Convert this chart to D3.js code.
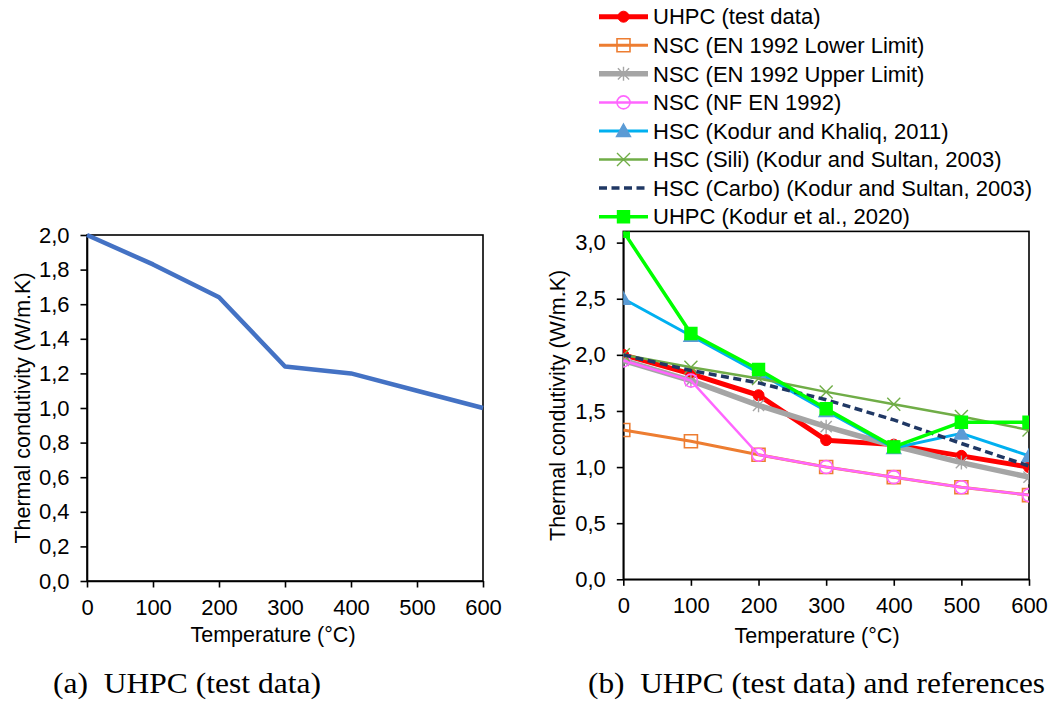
<!DOCTYPE html>
<html>
<head>
<meta charset="utf-8">
<script src="https://cdn.jsdelivr.net/npm/d3@7"></script>
<style>
  html, body { margin: 0; padding: 0; background: #fff; }
  svg { display: block; font-family: "Liberation Sans", Arial, sans-serif; }
  .caption { font-family: "Liberation Serif", "Times New Roman", serif; white-space: pre; }
</style>
</head>
<body>
<svg id="fig" width="1053" height="709"></svg>
<script>
// Temperatures (°C) shared by every series
const temps = [0, 100, 200, 300, 400, 500, 600];

// Thermal conductivity (W/m.K)
const uhpcTest   = [2.00, 1.83, 1.64, 1.24, 1.20, 1.10, 1.00];
const nscLower   = [1.33, 1.23, 1.11, 1.00, 0.91, 0.82, 0.75];
const nscUpper   = [1.95, 1.77, 1.55, 1.36, 1.19, 1.04, 0.91];
const nscNF      = [1.95, 1.77, 1.11, 1.00, 0.91, 0.82, 0.75];
const hscKhaliq  = [2.50, 2.17, 1.84, 1.50, 1.17, 1.30, 1.10];
const hscSili    = [2.00, 1.89, 1.79, 1.67, 1.56, 1.45, 1.33];
const hscCarbo   = [2.00, 1.86, 1.75, 1.60, 1.42, 1.21, 1.01];
const uhpcKodur  = [3.10, 2.19, 1.87, 1.52, 1.18, 1.40, 1.40];

const seriesNames = [
  "UHPC (test data)",
  "NSC (EN 1992 Lower Limit)",
  "NSC (EN 1992 Upper Limit)",
  "NSC (NF EN 1992)",
  "HSC (Kodur and Khaliq, 2011)",
  "HSC (Sili) (Kodur and Sultan, 2003)",
  "HSC (Carbo) (Kodur and Sultan, 2003)",
  "UHPC (Kodur et al., 2020)"
];
const seriesValues = [uhpcTest, nscLower, nscUpper, nscNF, hscKhaliq, hscSili, hscCarbo, uhpcKodur];

const xTicks = [0, 100, 200, 300, 400, 500, 600];
const yTicksA = [0, 0.2, 0.4, 0.6, 0.8, 1.0, 1.2, 1.4, 1.6, 1.8, 2.0];
const yTicksB = [0, 0.5, 1.0, 1.5, 2.0, 2.5, 3.0];
const captions = ["(a)  UHPC (test data)", "(b)  UHPC (test data) and references"];
const xTitle = "Temperature (°C)";
const yTitle = "Thermal condutivity (W/m.K)";

// Drawing styles for each series, in legend order
const styles = [
  { line: "#FF0000", width: 5,   marker: "dot",      mfill: "#FF0000", mstroke: "#FF0000", size: 5.5 },
  { line: "#ED7D31", width: 3,   marker: "square",   mfill: "none",    mstroke: "#ED7D31", size: 6.5 },
  { line: "#A5A5A5", width: 5.5, marker: "star",     mfill: "none",    mstroke: "#A5A5A5", size: 7 },
  { line: "#FF66FF", width: 2.5, marker: "circle",   mfill: "none",    mstroke: "#FF66FF", size: 6.5 },
  { line: "#00B0F0", width: 3,   marker: "triangle", mfill: "#5B9BD5", mstroke: "#5B9BD5", size: 7 },
  { line: "#70AD47", width: 2.5, marker: "cross",    mfill: "none",    mstroke: "#70AD47", size: 6.5 },
  { line: "#203864", width: 3.5, marker: null,       dash: "8,4.5" },
  { line: "#00FF00", width: 3.5, marker: "square",   mfill: "#00FF00", mstroke: "#00FF00", size: 6 }
];

const locale = d3.formatLocale({ decimal: ",", thousands: ".", grouping: [3], currency: ["", ""] });
const fmt1 = locale.format(".1f");

const svg = d3.select("#fig");

function markerPath(type, s) {
  switch (type) {
    case "square":   return `M${-s},${-s}H${s}V${s}H${-s}Z`;
    case "triangle": return `M0,${-s}L${s},${s * 0.8}L${-s},${s * 0.8}Z`;
    case "cross":    return `M${-s},${-s}L${s},${s}M${s},${-s}L${-s},${s}`;
    case "star":     return `M0,${-s}V${s}M${-s * 0.8},${-s * 0.8}L${s * 0.8},${s * 0.8}M${s * 0.8},${-s * 0.8}L${-s * 0.8},${s * 0.8}`;
    default:         return null;
  }
}

function drawMarker(g, type, st, x, y) {
  if (!type) return;
  if (type === "dot" || type === "circle") {
    g.append("circle").attr("cx", x).attr("cy", y).attr("r", st.size)
      .attr("fill", st.mfill).attr("stroke", st.mstroke).attr("stroke-width", type === "circle" ? 1.6 : 1);
  } else {
    g.append("path").attr("transform", `translate(${x},${y})`)
      .attr("d", markerPath(type, st.size))
      .attr("fill", st.mfill).attr("stroke", st.mstroke)
      .attr("stroke-width", type === "square" && st.mfill === "none" ? 1.6 : 1.4);
  }
}

function drawFrame(x, y, yTicks, opts) {
  const g = svg.append("g");
  const [x0, x1] = x.range();
  const [yb, yt] = y.range();
  // plot box
  g.append("rect").attr("x", x0).attr("y", yt).attr("width", x1 - x0).attr("height", yb - yt)
    .attr("fill", "none").attr("stroke", "#000").attr("stroke-width", 1.6);

  const xa = g.append("g").attr("transform", `translate(0,${yb})`)
    .call(d3.axisBottom(x).tickValues(xTicks).tickSizeOuter(0).tickSizeInner(6.5).tickPadding(12).tickFormat(d3.format("d")));
  const ya = g.append("g").attr("transform", `translate(${x0},0)`)
    .call(d3.axisLeft(y).tickValues(yTicks).tickSizeOuter(0).tickSizeInner(6.5).tickPadding(11).tickFormat(fmt1));
  [xa, ya].forEach(a => {
    a.select(".domain").attr("stroke", "#000").attr("stroke-width", 1.6);
    a.selectAll(".tick line").attr("stroke", "#000").attr("stroke-width", 1.6);
    a.selectAll("text").attr("fill", "#000").attr("font-size", 22)
      .attr("font-family", "'Liberation Sans', Arial, sans-serif");
  });

  g.append("text").attr("x", opts.xTitleX).attr("y", opts.xTitleY).attr("text-anchor", "middle")
    .attr("font-size", 21.5).attr("dy", "0.35em").text(xTitle);
  g.append("text").attr("transform", `translate(${opts.yTitleX},${(yb + yt) / 2}) rotate(-90)`)
    .attr("text-anchor", "middle").attr("dy", "0.35em").attr("font-size", 21.5).text(yTitle);
  return g;
}

// ---------- (a) UHPC test data ----------
const xA = d3.scaleLinear().domain([0, 600]).range([87, 483]);
const yA = d3.scaleLinear().domain([0, 2.0]).range([581, 235]);
drawFrame(xA, yA, yTicksA, { xTitleX: 273, xTitleY: 634, yTitleX: 22 });

svg.append("path")
  .datum(temps.map((t, i) => [t, uhpcTest[i]]))
  .attr("fill", "none").attr("stroke", "#4472C4").attr("stroke-width", 4.5)
  .attr("stroke-linejoin", "round")
  .attr("d", d3.line().x(d => xA(d[0])).y(d => yA(d[1])));

// ---------- (b) test data and references ----------
const xB = d3.scaleLinear().domain([0, 600]).range([623.3, 1029]);
const yB = d3.scaleLinear().domain([0, 3.1]).range([579.3, 231.4]);
drawFrame(xB, yB, yTicksB, { xTitleX: 817, xTitleY: 635, yTitleX: 557 });

svg.append("clipPath").attr("id", "plotB").append("rect")
  .attr("x", 623.3).attr("y", 231.4).attr("width", 1029 - 623.3).attr("height", 579.3 - 231.4);

const series = svg.append("g").attr("clip-path", "url(#plotB)");
seriesValues.forEach((vals, si) => {
  const st = styles[si];
  const g = series.append("g");
  g.append("path")
    .datum(temps.map((t, i) => [t, vals[i]]))
    .attr("fill", "none").attr("stroke", st.line).attr("stroke-width", st.width)
    .attr("stroke-linejoin", "round")
    .attr("stroke-dasharray", st.dash || null)
    .attr("d", d3.line().x(d => xB(d[0])).y(d => yB(d[1])));
  temps.forEach((t, i) => drawMarker(g, st.marker, st, xB(t), yB(vals[i])));
});

// Legend
const legend = svg.append("g");
seriesNames.forEach((name, i) => {
  const st = styles[i];
  const cy = 16.7 + i * 28.57;
  const row = legend.append("g");
  row.append("line").attr("x1", 599).attr("x2", 648).attr("y1", cy).attr("y2", cy)
    .attr("stroke", st.line).attr("stroke-width", st.width).attr("stroke-dasharray", st.dash || null);
  drawMarker(row, st.marker, st, 623.5, cy);
  row.append("text").attr("x", 653).attr("y", cy).attr("dy", "0.35em")
    .attr("font-size", 22).attr("fill", "#000").text(name);
});

// Captions
svg.append("text").attr("class", "caption").attr("x", 53).attr("y", 693)
  .attr("font-size", 29).attr("textLength", 268).attr("lengthAdjust", "spacingAndGlyphs")
  .text(captions[0]);
svg.append("text").attr("class", "caption").attr("x", 588).attr("y", 693)
  .attr("font-size", 29).attr("textLength", 457).attr("lengthAdjust", "spacingAndGlyphs")
  .text(captions[1]);
</script>
</body>
</html>
